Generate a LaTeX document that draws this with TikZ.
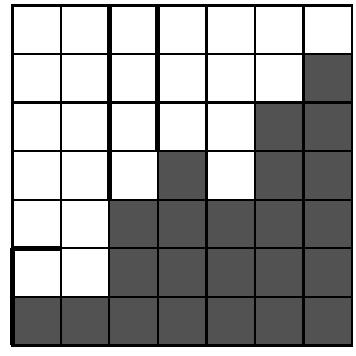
\documentclass[tikz,border=0pt]{standalone}
\begin{document}
\begin{tikzpicture}
		\useasboundingbox (-0.25, -0.22) rectangle (7.08, 7.11);
		
		% Shaded cells (column, row from the top)
		\foreach \c/\r in {7/2, 6/3, 7/3, 4/4, 6/4, 7/4,
			3/5, 4/5, 5/5, 6/5, 7/5,
			3/6, 4/6, 5/6, 6/6, 7/6,
			1/7, 2/7, 3/7, 4/7, 5/7, 6/7, 7/7}
			\fill[black!68] (\c-1, 7-\r) rectangle (\c, 8-\r);
		
		% Grid
		\draw[line width=1.3pt] (0, 0) grid (7, 7);
		\draw[line width=1.6pt] (0, 0) rectangle (7, 7);
		
		% Heavy lines
		\draw[line width=3pt] (2, 7) -- (2, 3);
		\draw[line width=3pt] (3, 7) -- (3, 4);
		\draw[line width=3pt] (0, 2) -- (1, 2);
		\draw[line width=3pt] (0, 0) -- (0, 2);
	\end{tikzpicture}
\end{document}
